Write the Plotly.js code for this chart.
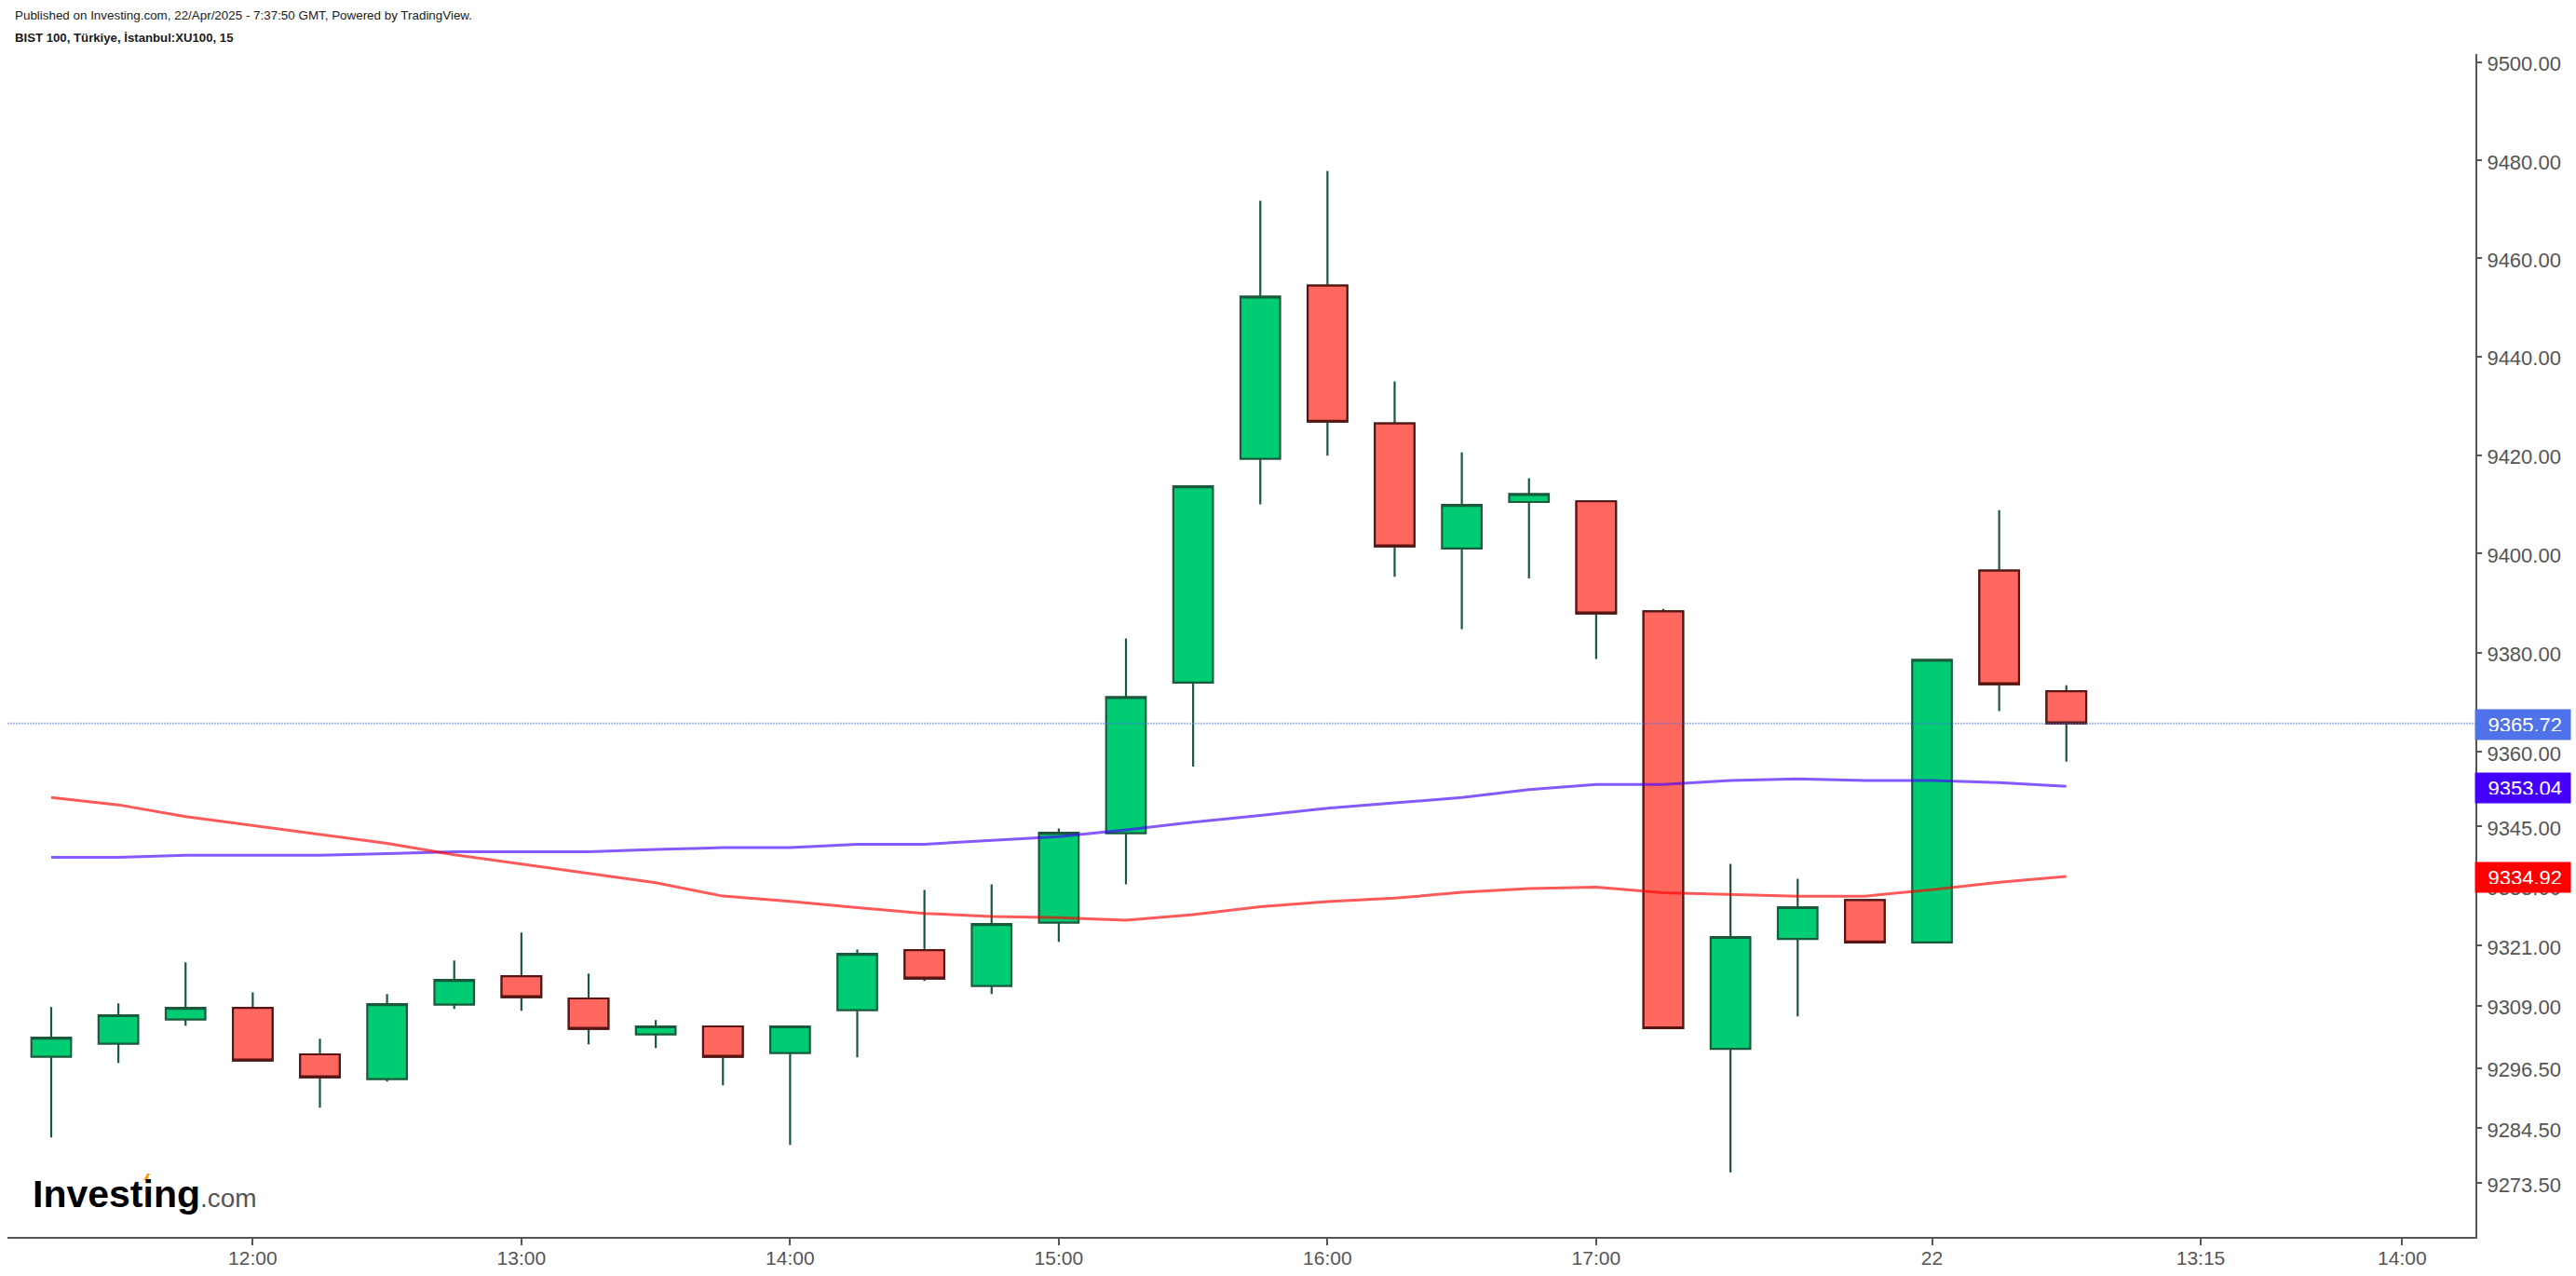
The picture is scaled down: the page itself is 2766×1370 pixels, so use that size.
<!DOCTYPE html>
<html><head><meta charset="utf-8">
<script src="https://cdn.plot.ly/plotly-3.0.1.min.js"></script>
<style>html,body{margin:0;padding:0;background:#fff}#c{width:2766px;height:1370px}</style></head>
<body><div id="c"></div>
<script>
const barIndex=[0,1,2,3,4,5,6,7,8,9,10,11,12,13,14,15,16,17,18,19,20,21,22,23,24,25,26,27,28,29,30];
const barOpen=[9298.74,9301.35,9306.20,9308.55,9299.23,9294.27,9309.19,9314.90,9310.42,9303.22,9304.82,9299.49,9308.07,9320.13,9312.92,9325.62,9343.58,9373.97,9419.23,9454.41,9426.42,9401.06,9410.47,9410.61,9388.33,9300.34,9322.34,9330.16,9321.64,9396.60,9372.22];
const barHigh=[9308.69,9309.43,9317.64,9311.66,9302.34,9311.29,9318.02,9323.62,9315.40,9306.07,9304.82,9304.82,9320.25,9332.22,9333.34,9344.57,9382.86,9413.66,9471.69,9477.77,9434.94,9420.53,9415.28,9410.61,9388.82,9337.45,9334.46,9330.16,9378.55,9408.81,9373.42];
const barLow=[9282.61,9297.50,9304.95,9297.99,9288.56,9293.77,9308.30,9307.93,9301.22,9300.48,9293.03,9281.11,9298.61,9313.91,9311.29,9321.75,9333.34,9357.03,9409.98,9419.86,9395.33,9384.74,9395.02,9378.70,9304.45,9275.62,9306.83,9321.64,9321.64,9368.20,9358.03];
const barClose=[9302.58,9307.06,9308.55,9297.99,9294.65,9309.29,9314.14,9310.68,9304.34,9304.82,9298.74,9304.82,9319.38,9314.41,9325.36,9343.69,9371.04,9413.66,9452.19,9426.76,9401.48,9409.88,9412.09,9387.92,9304.45,9322.75,9328.74,9321.64,9378.55,9373.63,9365.72];
const maPurple=[9338.76,9338.76,9339.15,9339.15,9339.15,9339.52,9339.89,9339.89,9339.89,9340.32,9340.70,9340.70,9341.39,9341.39,9342.19,9342.94,9344.26,9345.82,9347.19,9348.64,9349.69,9350.81,9352.39,9353.43,9353.43,9354.23,9354.52,9354.23,9354.23,9353.81,9353.04];
const maRed=[9350.81,9349.31,9346.95,9345.19,9343.45,9341.57,9339.27,9337.41,9335.53,9333.66,9330.96,9329.92,9328.66,9327.49,9326.85,9326.61,9326.10,9327.22,9328.85,9329.84,9330.54,9331.71,9332.46,9332.78,9331.66,9331.35,9330.95,9330.95,9332.26,9333.75,9334.92];
const lastPrice=9365.72, lastPurple=9353.04, lastRed=9334.92;
const yTicks=[9500,9480,9460,9440,9420,9400,9380,9360,9345,9333,9321,9309,9296.5,9284.5,9273.5];
const yTickLabels=["9500.00","9480.00","9460.00","9440.00","9420.00","9400.00","9380.00","9360.00","9345.00","9333.00","9321.00","9309.00","9296.50","9284.50","9273.50"];
const xTicks=[3,7,11,15,19,23,28,32,35];
const xTickLabels=["12:00","13:00","14:00","15:00","16:00","17:00","22","13:15","14:00"];
const xRange=[-0.6516,36.09];
const yRangeLog=[3.96674,3.97780];

const GREEN='#00cc74',RED='#ff675f',WICK='#1a5a3c',REDLINE='#5a1414',AX='#555555';
const F='"Liberation Sans",Arial,sans-serif';

const redIdx=barIndex.filter(i=>barClose[i]<barOpen[i]);
const traces=[
 {type:'candlestick',x:barIndex,open:barOpen,high:barHigh,low:barLow,close:barClose,whiskerwidth:0,
  increasing:{fillcolor:GREEN,line:{color:WICK,width:2.2}},
  decreasing:{fillcolor:RED,line:{color:WICK,width:2.2}},showlegend:false,hoverinfo:'skip'},
 {type:'candlestick',x:redIdx,open:redIdx.map(i=>barOpen[i]),close:redIdx.map(i=>barClose[i]),
  high:redIdx.map(i=>barOpen[i]),low:redIdx.map(i=>barClose[i]),whiskerwidth:0,
  increasing:{fillcolor:RED,line:{color:REDLINE,width:2.2}},
  decreasing:{fillcolor:RED,line:{color:REDLINE,width:2.2}},showlegend:false,hoverinfo:'skip'},
 {type:'scatter',mode:'lines',x:barIndex,y:maPurple,line:{color:'rgba(68,0,255,0.65)',width:3},showlegend:false,hoverinfo:'skip'},
 {type:'scatter',mode:'lines',x:barIndex,y:maRed,line:{color:'rgba(255,0,0,0.65)',width:3},showlegend:false,hoverinfo:'skip'},
 {type:'scatter',mode:'lines',x:xRange,y:[lastPrice,lastPrice],line:{color:'rgba(79,114,232,0.5)',width:2,dash:'2px,1px'},showlegend:false,hoverinfo:'skip'}
];
function tag(v,c){return {xref:'paper',yref:'y',x:1,y:Math.log10(v),xanchor:'left',yanchor:'middle',xshift:-1,yshift:-1.5,
  text:v.toFixed(2),showarrow:false,bgcolor:c,width:84,height:14,borderpad:9,align:'right',
  font:{family:F,size:22,color:'#ffffff'}};}
function hdr(t,x,y,s){return {xref:'paper',yref:'paper',x:x,y:y,xanchor:'left',yanchor:'middle',showarrow:false,text:t,font:{family:F,size:s,color:'#1a1a1a'}};}
const px=p=>(p-8)/2650, py=p=>(1328-p)/1270;
const layout={width:2766,height:1370,paper_bgcolor:'#fff',plot_bgcolor:'#fff',margin:{l:8,r:108,t:58,b:42},showlegend:false,boxgap:0.157,boxmode:'overlay',
 xaxis:{type:'linear',range:xRange,tickmode:'array',tickvals:xTicks,ticktext:xTickLabels,showgrid:false,zeroline:false,showline:true,linecolor:AX,linewidth:2,ticks:'outside',ticklen:7,tickwidth:2,tickcolor:AX,ticklabelstandoff:-4,tickfont:{family:F,size:21,color:AX},rangeslider:{visible:false},anchor:'y'},
 yaxis:{type:'log',range:yRangeLog,side:'right',tickmode:'array',tickvals:yTicks,ticktext:yTickLabels,showgrid:false,zeroline:false,showline:true,linecolor:AX,linewidth:2,ticks:'outside',ticklen:5,tickwidth:2,tickcolor:AX,ticklabelstandoff:1,ticklabelshift:2,tickfont:{family:F,size:22,color:AX},anchor:'x'},
 annotations:[
  tag(lastPrice,'#4f72e8'),tag(lastPurple,'#4400ff'),tag(lastRed,'#ff0000'),
  hdr('Published on Investing.com, 22/Apr/2025 - 7:37:50 GMT, Powered by TradingView.',px(14),py(17),13.4),
  hdr('<b>BIST 100, Türkiye, İstanbul:XU100, 15</b>',px(14),py(41),13.2),
  {xref:'paper',yref:'paper',x:px(33),y:py(1282),xanchor:'left',yanchor:'middle',showarrow:false,
   text:'<b>Investing</b><span style="font-size:28px;color:#555555">.com</span>',font:{family:F,size:41,color:'#000000'}}
 ],
 shapes:[{type:'path',xref:'paper',yref:'paper',fillcolor:'#f9a01b',line:{width:0},
  path:`M ${px(154)} ${py(1267)} L ${px(158)} ${py(1260)} L ${px(161)} ${py(1260)} L ${px(158)} ${py(1267)} Z`}]
};
Plotly.newPlot('c',traces,layout,{displayModeBar:false,staticPlot:true});
</script></body></html>
